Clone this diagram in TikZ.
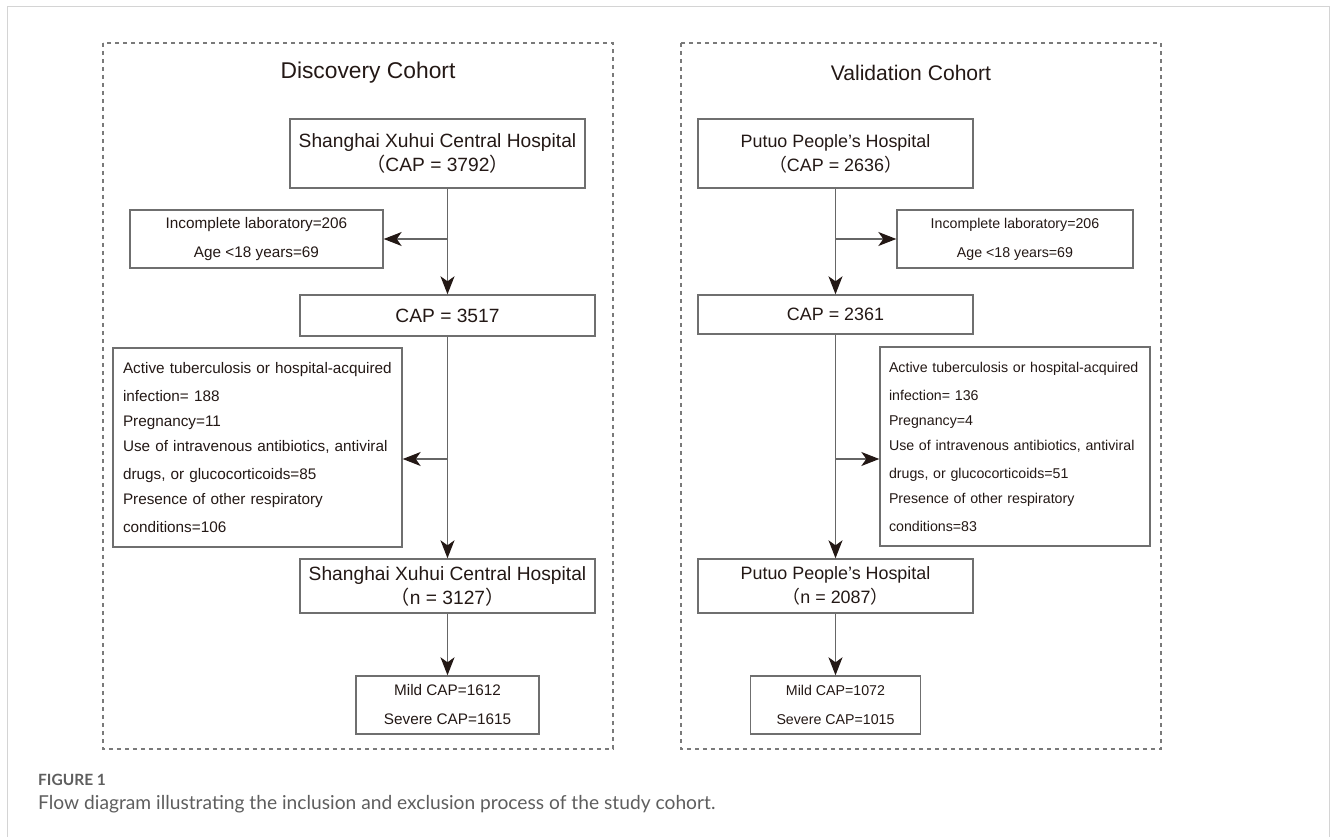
\documentclass[tikz,border=0pt]{standalone}
\usepackage{fontspec}
\setmainfont{Liberation Sans}
\newfontfamily\cjk{Noto Sans CJK SC}
\newfontfamily\capfont{Lato}
\usetikzlibrary{arrows.meta}
\definecolor{boxgray}{HTML}{6F6F6F}
\definecolor{linegray}{HTML}{666666}
\definecolor{tipdark}{HTML}{231815}
\definecolor{dashgray}{HTML}{7A7A7A}
\definecolor{framegray}{HTML}{D4D4D4}
\definecolor{capgray}{HTML}{5E5E5E}
\newcommand{\lpar}{{\cjk （}}
\newcommand{\rpar}{{\cjk ）}}

\tikzset{
  hbox/.style={draw=boxgray, line width=1.4pt, align=center, inner sep=0pt, text=tipdark},
  xbox/.style={hbox, align=left},
  arr/.style={linegray, line width=1.3pt, -{Stealth[length=18pt,width=14pt,inset=5pt,color=tipdark]}},
  cohort/.style={draw=dashgray, line width=1.1pt, dash pattern=on 4pt off 4pt},
  tL/.style={font=\fontsize{22.8}{26}\selectfont, text=tipdark},
  tR/.style={font=\fontsize{21.1}{26}\selectfont, text=tipdark},
  fL/.style={font=\fontsize{19.2}{24}\selectfont},
  fR/.style={font=\fontsize{17.9}{24}\selectfont},
  sL/.style={font=\fontsize{15.3}{29}\selectfont},
  sR/.style={font=\fontsize{14.2}{29}\selectfont}
}

\begin{document}
\begin{tikzpicture}[x=1pt,y=-1pt]
        \useasboundingbox (0,0) rectangle (1331,837);
        \draw[framegray, line width=1pt] (7,837) -- (7,7) -- (1329,7) -- (1329,837);
        % the two cohorts
        \draw[cohort] (103,43) rectangle (613,749);
        \draw[cohort] (681,43) rectangle (1161,749);
        \node[tL] (titleL) at (368,73) {Discovery Cohort};
        \node[tR] (titleR) at (911,73) {Validation Cohort};

        % discovery cohort
        \node[hbox, fL, minimum width=295pt, minimum height=69pt] (A1) at (437.5,153.5) {Shanghai Xuhui Central Hospital\\\lpar CAP = 3792\rpar};
        \node[hbox, fL, minimum width=295pt, minimum height=41pt] (A2) at (447.5,315.5) {CAP = 3517};
        \node[hbox, fL, minimum width=295pt, minimum height=54pt] (A3) at (447.5,586) {Shanghai Xuhui Central Hospital\\\lpar n = 3127\rpar};
        \node[hbox, sL, minimum width=183pt, minimum height=58pt] (A4) at (447.5,705) {Mild CAP=1612\\Severe CAP=1615};
        \node[hbox, sL, minimum width=253pt, minimum height=58pt] (E1) at (256.5,239) {Incomplete laboratory=206\\Age <18 years=69};
        \node[xbox, font=\fontsize{15.3}{28}\selectfont, text width=269pt, inner xsep=10pt, minimum height=199pt] (E2) at (257.5,447.5)
          {Active tuberculosis or hospital-acquired\\infection= 188\\[-3pt]Pregnancy=11\\[-3pt]Use of intravenous antibiotics, antiviral\\drugs, or glucocorticoids=85\\[-3pt]Presence of other respiratory\\conditions=106};

        \draw[arr] (A2.north |- A1.south) -- (A2.north);
        \draw[arr] (A2.south) -- (A3.north);
        \draw[arr] (A3.south) -- (A4.north);
        \draw[arr] (A2.north |- E1.east) -- (E1.east);
        \coordinate (jL) at (447.5,459);
        \draw[arr] (jL) -- (jL -| E2.east);

        % validation cohort
        \node[hbox, fR, minimum width=275pt, minimum height=69pt] (B1) at (835.5,153.5) {Putuo People’s Hospital\\\lpar CAP = 2636\rpar};
        \node[hbox, fR, minimum width=275pt, minimum height=39pt] (B2) at (835.5,314.5) {CAP = 2361};
        \node[hbox, fR, minimum width=275pt, minimum height=54pt] (B3) at (835.5,586) {Putuo People’s Hospital\\\lpar n = 2087\rpar};
        \node[hbox, sR, minimum width=170pt, minimum height=58pt] (B4) at (835.5,705) {Mild CAP=1072\\Severe CAP=1015};
        \node[hbox, sR, minimum width=236pt, minimum height=58pt] (F1) at (1015,239) {Incomplete laboratory=206\\Age <18 years=69};
        \node[xbox, font=\fontsize{14.2}{28}\selectfont, text width=252pt, inner xsep=9pt, minimum height=199pt] (F2) at (1015,446.5)
          {Active tuberculosis or hospital-acquired\\infection= 136\\[-3pt]Pregnancy=4\\[-3pt]Use of intravenous antibiotics, antiviral\\drugs, or glucocorticoids=51\\[-3pt]Presence of other respiratory\\conditions=83};

        \draw[arr] (B1.south) -- (B2.north);
        \draw[arr] (B2.south) -- (B3.north);
        \draw[arr] (B3.south) -- (B4.north);
        \draw[arr] (B2.north |- F1.west) -- (F1.west);
        \coordinate (jR) at (835.5,459);
        \draw[arr] (jR) -- (jR -| F2.west);

        % caption
        \node[anchor=base west, inner sep=0pt, text=capgray, font=\capfont\bfseries\fontsize{15.5}{18}\selectfont] (fig) at (38,785) {FIGURE 1};
        \node[anchor=base west, inner sep=0pt, text=capgray, font=\capfont\fontsize{19.2}{22}\selectfont] (cap) at (38,809) {Flow diagram illustrating the inclusion and exclusion process of the study cohort.};
\end{tikzpicture}
\end{document}
